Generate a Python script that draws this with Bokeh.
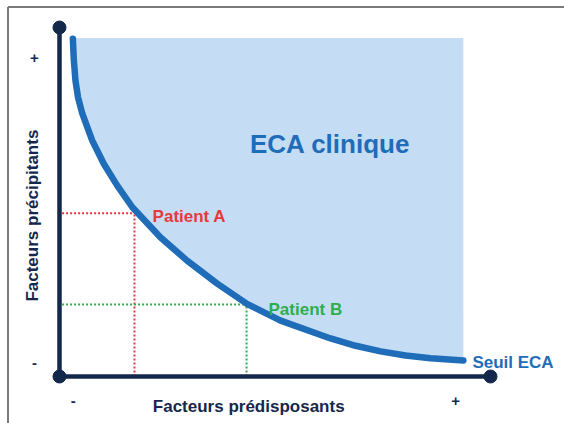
from bokeh.plotting import figure
from bokeh.embed import file_html
from bokeh.resources import INLINE
from bokeh.models import ColumnDataSource, Range1d
from bokeh.core.properties import value

# ---- data (axis units: 0..100 on both axes) ----
curve_x = [3.1, 3.3, 3.7, 4.3, 5.3, 7.6, 10.3, 13.4, 16.9, 23.4, 29.6, 36.6, 43.5,
           51.3, 62.9, 68.7, 74.5, 80.3, 86.1, 93.7]
curve_y = [96.8, 91.1, 84.8, 80.0, 75.3, 67.6, 60.9, 54.7, 48.5, 39.9, 33.2, 26.6, 20.8,
           16.0, 10.9, 8.8, 7.2, 6.0, 5.2, 4.6]
zone_top = 97.0
patients = ["Patient A", "Patient B"]
patient_x = [17.4, 43.4]
patient_y = [46.8, 20.6]
x_tick_pos = [3.2, 91.9]
x_tick_labels = ["-", "+"]
y_tick_pos = [4.0, 91.4]
y_tick_labels = ["-", "+"]
zone_label = "ECA clinique"
curve_label = "Seuil ECA"
x_title = "Facteurs prédisposants"
y_title = "Facteurs précipitants"

NAVY = "#14284b"
BLUE = "#1f6cb8"
FILL = "#c4ddf4"
RED = "#e8383d"
GREEN = "#2fae4d"
FONT = value("Liberation Sans")

X0, X1 = -13.689, 117.17
Y0, Y1 = -13.467, 107.74

p = figure(width=564, height=423, output_backend="svg", toolbar_location=None,
           x_range=Range1d(X0, X1), y_range=Range1d(Y0, Y1),
           min_border=0, outline_line_color=None)
p.axis.visible = False
p.grid.visible = False
p.background_fill_color = "white"

# frame lines (top and left)
p.segment(x0=[-11.95, -11.95], y0=[105.9, 105.9], x1=[X1, -11.95], y1=[105.9, Y0],
          line_color="#7a7a7a", line_width=2)

# shaded zone
src = ColumnDataSource(dict(x=curve_x, y1=curve_y, y2=[zone_top] * len(curve_x)))
p.varea(x="x", y1="y1", y2="y2", source=src, fill_color=FILL)

# patient guide lines
colors = [RED, GREEN]
for px, py, c in zip(patient_x, patient_y, colors):
    p.segment(x0=[0.6, px], y0=[py, 0], x1=[px, px], y1=[py, py],
              line_color=c, line_width=2, line_dash="2 2")

# threshold curve
p.line(x="x", y="y1", source=src, line_color=BLUE, line_width=6.5, line_cap="round",
       line_join="round")

# axes
p.segment(x0=[0, 0], y0=[0, 0], x1=[100, 0], y1=[0, 100], line_color=NAVY, line_width=4.5)
p.scatter(x=[0, 0, 100], y=[0, 100, 0], size=13, color=NAVY)

# texts
p.text(x=[62.8], y=[66.5], text=[zone_label], text_color=BLUE, text_font=FONT,
       text_font_style="bold", text_font_size="26px", text_align="center",
       text_baseline="alphabetic")
p.text(x=[patient_x[0] + 4.2, patient_x[1] + 5.1], y=[45.8, 19.2], text=patients,
       text_color=colors, text_font=FONT, text_font_style="bold", text_font_size="17px",
       text_align="left", text_baseline="alphabetic")
p.text(x=[curve_x[-1] + 2.1], y=[4.0], text=[curve_label], text_color=BLUE, text_font=FONT,
       text_font_style="bold", text_font_size="17px", text_align="left",
       text_baseline="alphabetic")
p.text(x=[43.9], y=[-8.7], text=[x_title], text_color=NAVY, text_font=FONT,
       text_font_style="bold", text_font_size="17px", text_align="center",
       text_baseline="alphabetic")
p.text(x=[-6.2], y=[46.1], text=[y_title], text_color=NAVY, text_font=FONT,
       text_font_style="bold", text_font_size="17px", text_align="center",
       text_baseline="middle", angle=1.5708)
p.text(x=x_tick_pos, y=[-6.9, -6.9], text=x_tick_labels, text_color=NAVY, text_font=FONT,
       text_font_style="bold", text_font_size="15px", text_align="center",
       text_baseline="middle")
p.text(x=[-5.8, -5.8], y=y_tick_pos, text=y_tick_labels, text_color=NAVY, text_font=FONT,
       text_font_style="bold", text_font_size="15px", text_align="center",
       text_baseline="middle")

open("out.html", "w").write(file_html(p, INLINE))
